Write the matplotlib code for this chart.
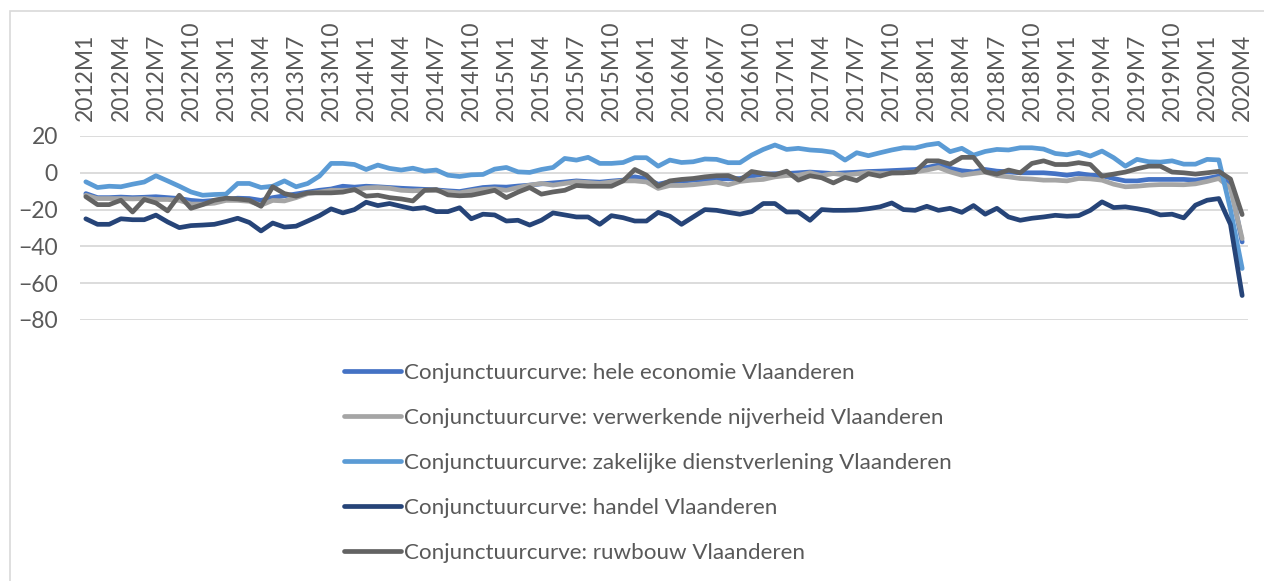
import matplotlib
matplotlib.use("Agg")
import matplotlib.pyplot as plt
from matplotlib.patches import Rectangle

plt.rcParams['font.family'] = ['Lato', 'DejaVu Sans']

# maanden 2012M1 .. 2020M4
periods = [f"{y}M{m}" for y in range(2012, 2021) for m in range(1, 13)][:100]

hele = [-11.3, -13.5, -13.5, -13.2, -13.5, -13.3, -13, -13.5, -14, -15,
        -15.5, -15, -14.5, -13.8, -14, -15, -13.5, -12.5, -11.5, -10.5,
        -9.5, -8.8, -7.3, -7.8, -7.3, -7.6, -8, -8.4, -8.7, -9,
        -9.3, -9.8, -10.2, -9.1, -8, -7.6, -7.8, -7.2, -6.7, -6,
        -5.5, -5, -4.4, -4.8, -5.1, -4.5, -4, -2.2, -3.3, -6.2,
        -4.9, -4.5, -4, -3.6, -3.1, -3.3, -3.1, -1.8, -0.7, -0.5,
        -0.4, 0, 0.4, 0, -0.4, 0, 0.3, 0.7, 0.9, 1.2,
        1.5, 1.8, 2.9, 4.2, 2.4, 1.1, 0.5, 1.8, 0.9, 0.5,
        0, 0, 0, -0.5, -1.3, -0.4, -1.3, -1.6, -3.1, -4.4,
        -4.4, -3.6, -3.6, -3.6, -3.6, -4, -3.1, -1.8, -6.5, -37.6]

verwerkend = [-12.2, -14, -14, -14, -14.2, -14, -14.5, -14.5, -15, -17,
              -17, -16.5, -15, -15, -15.5, -17.6, -15, -15.3, -13.5, -11.3,
              -10.5, -9.5, -9.5, -9.3, -8.2, -8, -8.4, -9.5, -9.8, -9.5,
              -9.7, -10.4, -10.9, -9.8, -9, -8.7, -9.5, -8, -6.7, -5.8,
              -6.7, -5.8, -4.9, -5.3, -5.8, -5, -4.4, -4.4, -5, -8.5,
              -6.9, -6.9, -6.5, -5.8, -5.1, -6.5, -4.7, -4, -3.6, -2.2,
              -1.5, -1.3, 0, -1.5, -0.4, -1.2, -0.6, 0.2, -0.4, -0.2,
              0, 0.5, 1.5, 2.9, 0.5, -1.3, -0.4, 0.4, -1.5, -2.2,
              -3.1, -3.4, -4, -4, -4.4, -3.1, -3.3, -4, -6.2, -7.6,
              -7.3, -6.7, -6.4, -6.4, -6.5, -6, -4.7, -3.1, -8.5, -35.8]

zakelijk = [-4.9, -8, -7.3, -7.6, -6.2, -5, -1.6, -4.4, -7.3, -10.4,
            -12.2, -11.8, -11.6, -5.8, -5.8, -8, -7.3, -4.4, -7.6, -5.8,
            -1.8, 5.1, 5.1, 4.5, 1.8, 4.2, 2.4, 1.5, 2.5, 0.9,
            1.5, -1.3, -2.0, -1.1, -0.9, 2, 2.9, 0.5, 0.2, 1.8,
            2.9, 7.8, 6.9, 8.4, 5.1, 5.1, 5.6, 8.2, 8.2, 3.6,
            6.9, 5.6, 6, 7.5, 7.3, 5.5, 5.5, 9.6, 12.7, 15.1,
            12.7, 13.3, 12.4, 12, 11.1, 6.9, 10.9, 9.3, 10.9, 12.4,
            13.6, 13.5, 15.1, 16, 11.5, 13.3, 9.6, 11.6, 12.7, 12.4,
            13.6, 13.6, 12.9, 10.5, 9.8, 11.1, 9.1, 11.8, 8.2, 3.6,
            7.3, 6, 5.8, 6.5, 4.7, 4.7, 7.3, 7.0, -20, -52]

handel = [-25, -28, -28, -25, -25.5, -25.5, -23, -26.7, -29.8, -28.7,
          -28.4, -28, -26.5, -24.7, -27, -31.6, -27.3, -29.5, -29, -26.2,
          -23.3, -19.6, -21.8, -20, -16, -17.8, -16.7, -18.2, -19.6, -18.9,
          -21.1, -21.1, -19.0, -25, -22.5, -22.9, -26.2, -25.8, -28.4, -25.8,
          -21.8, -22.9, -24, -24, -28, -23.3, -24.4, -26.2, -26.2, -21.5,
          -23.6, -28, -24, -20, -20.4, -21.5, -22.5, -21.1, -16.7, -16.7,
          -21.3, -21.3, -25.8, -20, -20.4, -20.4, -20.2, -19.5, -18.5, -16.4,
          -20, -20.4, -18.2, -20.4, -19.3, -21.5, -17.8, -22.5, -19.3, -24,
          -25.8, -24.7, -24, -23.1, -23.6, -23.3, -20.4, -15.8, -18.9, -18.5,
          -19.5, -20.7, -22.9, -22.5, -24.5, -17.6, -14.9, -14, -28, -66.7]

ruwbouw = [-13, -17.3, -17.3, -14.9, -21.3, -14.5, -16.4, -20.7, -12.2, -19.3,
           -17.3, -14.9, -13.8, -14.2, -14.9, -18.2, -7.6, -11.3, -12.7, -10.9,
           -10.9, -10.9, -10.5, -9.1, -12.7, -12.2, -13.5, -14.2, -15.3, -9.5,
           -9.1, -12, -12.5, -12.2, -10.9, -9.5, -13.5, -10.5, -8, -11.6,
           -10.4, -9.5, -6.9, -7.3, -7.3, -7.3, -4.4, 1.8, -1.3, -7.3,
           -4.4, -3.6, -3.1, -2.2, -1.6, -1.5, -4, 0.7, -0.4, -1.1,
           0.9, -4, -1.6, -2.7, -5.5, -2.5, -4.2, -0.5, -1.8, 0,
           0, 0.5, 6.5, 6.5, 4.7, 8.4, 8.4, 0.5, -0.7, 1.5,
           0, 5.1, 6.5, 4.5, 4.5, 5.5, 4.5, -1.8, -0.7, 0.4,
           2.2, 3.6, 3.6, 0.4, 0, -0.7, 0, 0.8, -3.4, -22.7]

series = [
    ("Conjunctuurcurve: hele economie Vlaanderen", hele, "#4472C4"),
    ("Conjunctuurcurve: verwerkende nijverheid Vlaanderen", verwerkend, "#A5A5A5"),
    ("Conjunctuurcurve: zakelijke dienstverlening Vlaanderen", zakelijk, "#5B9BD5"),
    ("Conjunctuurcurve: handel Vlaanderen", handel, "#264478"),
    ("Conjunctuurcurve: ruwbouw Vlaanderen", ruwbouw, "#636363"),
]

W, H = 1264, 581
fig = plt.figure(figsize=(W / 100, H / 100), dpi=100)
ax = fig.add_axes([80 / W, 1 - 320 / H, (1248 - 80) / W, (320 - 136) / H])

x = list(range(len(periods)))
for name, vals, col in series:
    ax.plot(x, vals, color=col, lw=3.4, label=name,
            solid_joinstyle='round', solid_capstyle='round')

ax.set_xlim(-0.5, len(periods) - 0.5)
ax.set_ylim(-80, 20)
ax.set_yticks([20, 0, -20, -40, -60, -80])
ax.yaxis.grid(True, color='#D9D9D9', lw=1.3)
ax.set_axisbelow(True)
for s in ax.spines.values():
    s.set_visible(False)

ax.xaxis.tick_top()
ax.set_xticks(x[::3])
ax.set_xticklabels(periods[::3], rotation=90, fontsize=16.5, color='#595959')
ax.tick_params(axis='x', length=0, pad=11)
ax.tick_params(axis='y', length=0, pad=16, labelsize=16.5, labelcolor='#595959')

leg = fig.legend(loc='upper left', bbox_to_anchor=(344 / W, 1 - 363 / H),
                 frameon=False, fontsize=16.1, handlelength=2.55,
                 handletextpad=0.15, labelspacing=1.12, borderpad=0,
                 borderaxespad=0)
for t in leg.get_texts():
    t.set_color('#595959')

fig.patches.append(Rectangle((10 / W, -0.1), 1.2, 1 - 11 / H + 0.1,
                             transform=fig.transFigure, fill=False,
                             edgecolor='#D9D9D9', lw=1.2))

fig.savefig("out.png", dpi=100)
